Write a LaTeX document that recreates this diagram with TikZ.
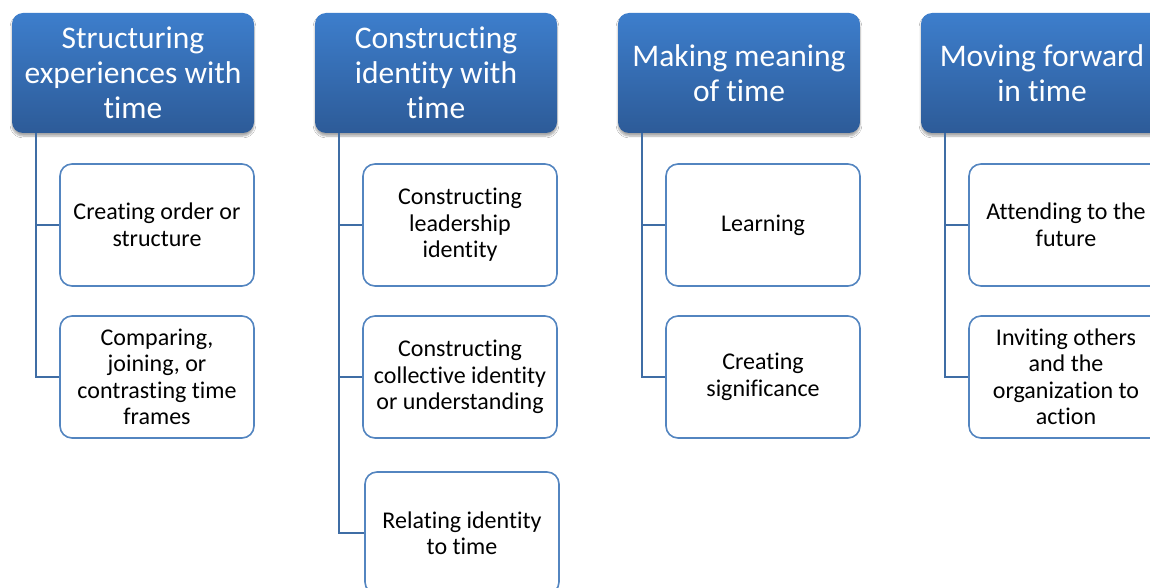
\documentclass[tikz,border=0pt]{standalone}
\usepackage{fontspec}
\setmainfont[Ligatures=NoCommon]{Carlito}
\usetikzlibrary{shadows.blur}
\definecolor{hdtop}{HTML}{3D7ECC}
\definecolor{hdbot}{HTML}{2D5B98}
\definecolor{bord}{HTML}{5385C0}
\definecolor{conn}{HTML}{3F6DA5}
\tikzset{
  hdr/.style={rounded corners=11pt, minimum width=242pt, minimum height=120pt,
    top color=hdtop, bottom color=hdbot, draw=none, text=white, align=center,
    inner sep=0pt, font=\fontsize{31.5}{35}\selectfont,
    blur shadow={shadow xshift=0pt, shadow yshift=-3pt, shadow blur steps=6, shadow opacity=35}},
  kid/.style={rounded corners=12pt, minimum width=194pt, minimum height=122pt,
    draw=bord, line width=1.6pt, fill=white, text=black, align=center, inner sep=0pt,
    font=\fontsize{24}{26.5}\selectfont},
  link/.style={draw=conn, line width=1.8pt},
}
\begin{document}
\begin{tikzpicture}[x=1pt,y=-1pt]
\useasboundingbox (0,0) rectangle (1150,588);
\clip (0,0) rectangle (1150,588);
\fill[white] (0,0) rectangle (1150,588);
% column 1
\node[hdr] (h1) at (133,73) {Structuring\\experiences with\\time};
\node[kid] (c11) at (157,225) {Creating order or\\structure};
\node[kid] (c12) at (157,377) {Comparing,\\joining, or\\contrasting time\\frames};
% column 2
\node[hdr] (h2) at (436,73) {Constructing\\identity with\\time};
\node[kid] (c21) at (460,225) {Constructing\\leadership\\identity};
\node[kid] (c22) at (460,377) {Constructing\\collective identity\\or understanding};
\node[kid] (c23) at (462,533) {Relating identity\\to time};
% column 3
\node[hdr] (h3) at (739,73) {Making meaning\\of time};
\node[kid] (c31) at (763,225) {Learning};
\node[kid] (c32) at (763,377) {Creating\\significance};
% column 4
\node[hdr] (h4) at (1042,73) {Moving forward\\in time};
\node[kid] (c41) at (1066,225) {Attending to the\\future};
\node[kid] (c42) at (1066,377) {Inviting others\\and the\\organization to\\action};
% connectors
\draw[link] ([xshift=24pt]h1.south west) |- (c11.west);
\draw[link] ([xshift=24pt]h1.south west) |- (c12.west);
\draw[link] ([xshift=24pt]h2.south west) |- (c21.west);
\draw[link] ([xshift=24pt]h2.south west) |- (c22.west);
\draw[link] ([xshift=24pt]h2.south west) |- (c23.west);
\draw[link] ([xshift=24pt]h3.south west) |- (c31.west);
\draw[link] ([xshift=24pt]h3.south west) |- (c32.west);
\draw[link] ([xshift=24pt]h4.south west) |- (c41.west);
\draw[link] ([xshift=24pt]h4.south west) |- (c42.west);
\end{tikzpicture}
\end{document}
